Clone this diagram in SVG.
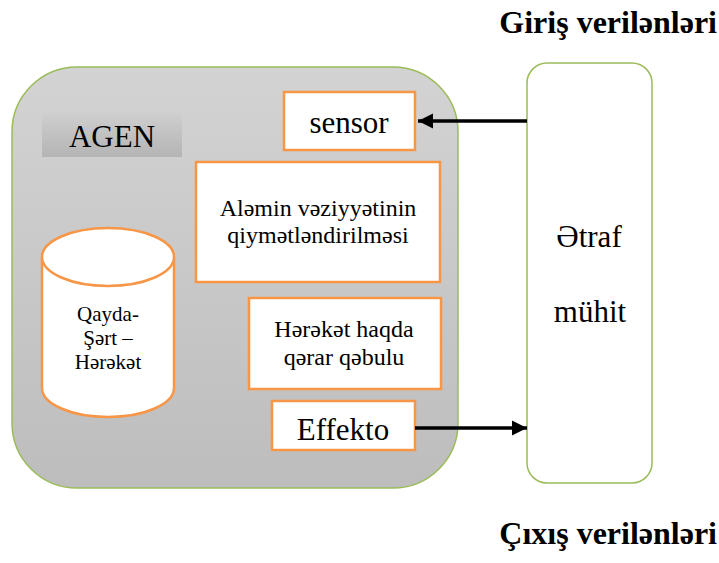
<svg xmlns="http://www.w3.org/2000/svg" width="719" height="563" viewBox="0 0 719 563">
<defs>
<linearGradient id="gBig" x1="0" y1="0" x2="0" y2="1"><stop offset="0" stop-color="#d3d3d3"/><stop offset="1" stop-color="#bdbdbd"/></linearGradient>
<linearGradient id="gLab" x1="0" y1="0" x2="0" y2="1"><stop offset="0" stop-color="#d2d2d2"/><stop offset="1" stop-color="#b4b4b4"/></linearGradient>
<marker id="ah" viewBox="0 0 10 10" refX="10" refY="5" markerWidth="4.3" markerHeight="4.3" markerUnits="strokeWidth" orient="auto"><path d="M0,0 L10,5 L0,10 z" fill="#000"/></marker>
</defs>
<style>
.box{fill:#fff;stroke:#f79646;stroke-width:2.5}
.grn{stroke:#9bbb59;stroke-width:1.5}
.t{font-family:"Liberation Serif","DejaVu Serif","Times New Roman",serif;fill:#000;text-anchor:middle}
.b{font-weight:bold;text-anchor:end}
.con{stroke:#000;stroke-width:3.5;fill:none}
</style>
<rect width="719" height="563" fill="#fff"/>
<g id="agent">
<rect x="12" y="67" width="446" height="421" rx="65" ry="65" fill="url(#gBig)" class="grn"/>
<rect x="42" y="108" width="140" height="49" fill="url(#gLab)"/>
<text class="t" x="112" y="147" font-size="31">AGEN</text>
</g>
<g id="sensor">
<rect class="box" x="284" y="92" width="131" height="58"/>
<text class="t" x="349" y="133" font-size="31">sensor</text>
</g>
<g id="qiymet">
<rect class="box" x="196" y="162" width="244" height="120"/>
<text class="t" x="318" y="216" font-size="24">Aləmin vəziyyətinin</text>
<text class="t" x="318" y="243" font-size="24">qiymətləndirilməsi</text>
</g>
<g id="qerar">
<rect class="box" x="249" y="298" width="192" height="91"/>
<text class="t" x="344" y="337" font-size="24">Hərəkət haqda</text>
<text class="t" x="344" y="365" font-size="24">qərar qəbulu</text>
</g>
<g id="effekto">
<rect class="box" x="272" y="401" width="143" height="49"/>
<text class="t" x="343" y="440" font-size="31">Effekto</text>
</g>
<g id="qayda">
<path class="box" d="M42,257 L42,388 A66,29 0 0 0 174,388 L174,257 A66,29 0 0 0 42,257 Z"/>
<path class="box" fill="none" d="M42,257 A66,29 0 0 0 174,257"/>
<text class="t" x="108" y="321" font-size="21">Qayda-</text>
<text class="t" x="108" y="345" font-size="21">Şərt –</text>
<text class="t" x="108" y="369" font-size="21">Hərəkət</text>
</g>
<g id="etraf">
<rect x="527" y="63" width="125" height="420" rx="20" ry="20" fill="#fff" class="grn"/>
<text class="t" x="589" y="247" font-size="31">Ətraf</text>
<text class="t" x="590" y="322" font-size="31">mühit</text>
</g>
<g id="connectors">
<line class="con" x1="527" y1="121" x2="418" y2="121" marker-end="url(#ah)"/>
<line class="con" x1="415" y1="428" x2="527" y2="428" marker-end="url(#ah)"/>
</g>
<g id="labels">
<text class="t b" x="717" y="33" font-size="32">Giriş verilənləri</text>
<text class="t b" x="717" y="544" font-size="32">Çıxış verilənləri</text>
</g>
</svg>
